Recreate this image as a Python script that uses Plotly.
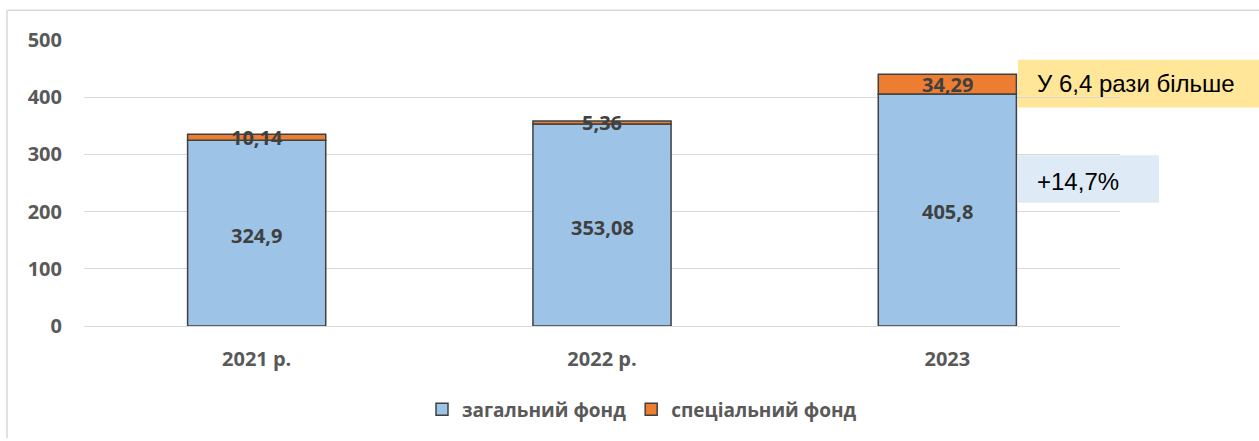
import plotly.graph_objects as go

categories = ["2021 р.", "2022 р.", "2023"]
general_fund = [324.9, 353.08, 405.8]
special_fund = [10.14, 5.36, 34.29]
series_names = ["загальний фонд", "спеціальний фонд"]
y_ticks = [0, 100, 200, 300, 400, 500]
note_special = "У 6,4 рази більше"
note_general = "+14,7%"

W, H = 1259, 441
L, R, T, B = 84, 139, 40, 113
pw, ph = W - L - R, H - T - B

def px_x(x):
    return (x - L) / pw

def px_y(y):
    return (H - B - y) / ph

def fmt(v):
    return f"{v:g}".replace(".", ",")

xpos = list(range(len(categories)))
lab_font = dict(family="Open Sans", size=20, color="#404040")
tick_font = dict(family="Open Sans", size=20, color="#595959", weight="bold")
edge = dict(color="#404040", width=1.5)

fig = go.Figure()
fig.add_bar(x=xpos, y=general_fund, name=series_names[0],
            marker=dict(color="#9DC3E6", line=edge), width=0.4)
fig.add_bar(x=xpos, y=special_fund, base=general_fund, name=series_names[1],
            marker=dict(color="#ED7D31", line=edge), width=0.4)

for i, g, s in zip(xpos, general_fund, special_fund):
    fig.add_annotation(x=i, y=g / 2, text=f"<b>{fmt(g)}</b>", showarrow=False,
                       font=lab_font, xref="x", yref="y", yshift=-2)
    fig.add_annotation(x=i, y=g + s / 2, text=f"<b>{fmt(s)}</b>", showarrow=False,
                       font=lab_font, xref="x", yref="y")

# highlight boxes
fig.add_shape(type="rect", xref="paper", yref="paper",
              x0=px_x(1018), x1=px_x(1259), y0=px_y(108), y1=px_y(60),
              fillcolor="#FFE699", line=dict(width=0), layer="below")
fig.add_shape(type="rect", xref="paper", yref="paper",
              x0=px_x(1018), x1=px_x(1159), y0=px_y(204), y1=px_y(156),
              fillcolor="#DEEBF7", line=dict(width=0), layer="below")
fig.add_annotation(xref="paper", yref="paper", x=px_x(1035), y=px_y(84),
                   xanchor="left", yanchor="middle", text=note_special, showarrow=False,
                   font=dict(family="Liberation Sans, Arial", size=24, color="#000000"))
fig.add_annotation(xref="paper", yref="paper", x=px_x(1035), y=px_y(182),
                   xanchor="left", yanchor="middle", text=note_general, showarrow=False,
                   font=dict(family="Liberation Sans, Arial", size=24, color="#000000"))

# outer chart border (left & top visible)
fig.add_shape(type="line", xref="paper", yref="paper",
              x0=px_x(7), x1=px_x(7), y0=px_y(441), y1=px_y(10),
              line=dict(color="#D9D9D9", width=1.5))
fig.add_shape(type="line", xref="paper", yref="paper",
              x0=px_x(7), x1=px_x(1259), y0=px_y(10), y1=px_y(10),
              line=dict(color="#D9D9D9", width=1.5))

fig.update_layout(
    width=W, height=H,
    margin=dict(l=L, r=R, t=T, b=B),
    barmode="overlay",
    plot_bgcolor="white", paper_bgcolor="white",
    showlegend=True,
    legend=dict(orientation="h", x=px_x(642), xanchor="center",
                y=px_y(412), yanchor="middle",
                font=dict(family="Open Sans", size=19, color="#595959", weight="bold"),
                itemwidth=30, traceorder="normal"),
    xaxis=dict(range=[-0.5, 2.5], tickvals=xpos, ticktext=categories,
               showgrid=False, showline=False, zeroline=False,
               tickfont=tick_font, ticklabelstandoff=19),
    yaxis=dict(range=[0, 500], tickvals=y_ticks, showgrid=True, gridcolor="#D9D9D9",
               gridwidth=1, zeroline=True, zerolinecolor="#D9D9D9", zerolinewidth=1,
               showline=False, tickfont=tick_font, ticklabelstandoff=21),
)

fig.write_html("out.html", config={"displayModeBar": False},
               post_script="document.body.style.margin='0';document.body.style.overflow='hidden';")
